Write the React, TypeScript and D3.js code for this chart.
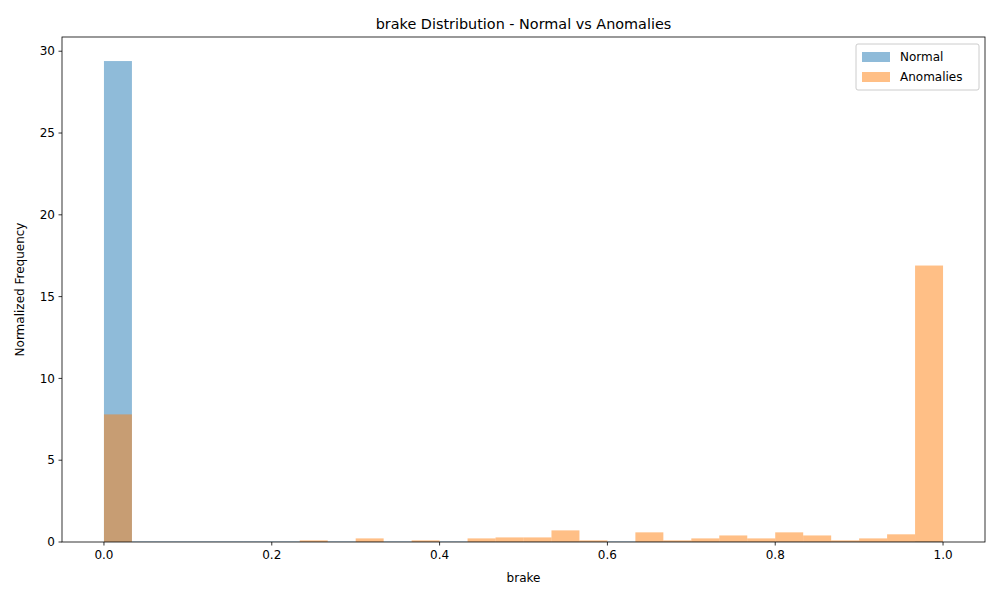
import React from 'react';
import * as d3 from 'd3';

const binCount = 30;
const normalValues = [29.4, 0.03, 0.03, 0.03, 0.03, 0.03, 0.03, 0.03, 0.03, 0.03, 0.03, 0.03, 0.03, 0.03, 0.03,
  0.03, 0.03, 0.03, 0.03, 0.03, 0.03, 0.03, 0.03, 0.03, 0.03, 0.03, 0.03, 0.03, 0.03, 0.05];
const anomalyValues = [7.8, 0, 0, 0, 0, 0, 0, 0.1, 0, 0.22, 0, 0.1, 0, 0.22, 0.28,
  0.28, 0.71, 0.1, 0, 0.59, 0.1, 0.22, 0.4, 0.22, 0.59, 0.4, 0.1, 0.22, 0.47, 16.9];
const xTicks = [0, 0.2, 0.4, 0.6, 0.8, 1.0];
const yTicks = [0, 5, 10, 15, 20, 25, 30];
const series = [
  { name: 'Normal', values: normalValues, color: '#1f77b4' },
  { name: 'Anomalies', values: anomalyValues, color: '#ff7f0e' },
];

const W = 1000, H = 600;
const m = { left: 62, right: 15, top: 37, bottom: 58 };

export default function App() {
  const x = d3.scaleLinear().domain([-0.05, 1.05]).range([m.left, W - m.right]);
  const y = d3.scaleLinear().domain([0, 29.4 * 1.05]).range([H - m.bottom, m.top]);
  const bw = 1 / binCount;
  const font = 'DejaVu Sans, sans-serif';
  return (
    <svg width={W} height={H} style={{ position: 'absolute', left: 0, top: 0 }} fontFamily={font}>
      <rect width={W} height={H} fill="#fff" />
      {series.map(s => (
        <g key={s.name}>
          {s.values.map((v, i) => (
            <rect key={i} x={x(i * bw)} width={x((i + 1) * bw) - x(i * bw)} y={y(v)} height={y(0) - y(v)}
              fill={s.color} fillOpacity={0.5} />
          ))}
        </g>
      ))}
      <rect x={m.left} y={m.top} width={W - m.left - m.right} height={H - m.top - m.bottom}
        fill="none" stroke="#000" strokeWidth={0.8} />
      {xTicks.map(t => (
        <g key={t} transform={`translate(${x(t)},${H - m.bottom})`}>
          <line y2={3.5} stroke="#000" strokeWidth={0.8} />
          <text y={17} textAnchor="middle" fontSize={12}>{t.toFixed(1)}</text>
        </g>
      ))}
      {yTicks.map(t => (
        <g key={t} transform={`translate(${m.left},${y(t)})`}>
          <line x2={-3.5} stroke="#000" strokeWidth={0.8} />
          <text x={-7} dy="0.35em" textAnchor="end" fontSize={12}>{t}</text>
        </g>
      ))}
      <text x={(m.left + W - m.right) / 2} y={582} textAnchor="middle" fontSize={12}>brake</text>
      <text transform={`translate(24,${(m.top + H - m.bottom) / 2}) rotate(-90)`} textAnchor="middle" fontSize={12}>Normalized Frequency</text>
      <text x={(m.left + W - m.right) / 2} y={29} textAnchor="middle" fontSize={14.4}>brake Distribution - Normal vs Anomalies</text>
      <g transform="translate(856,44)">
        <rect width={123} height={46} rx={2} fill="#fff" fillOpacity={0.8} stroke="#ccc" />
        {series.map((s, i) => (
          <g key={s.name} transform={`translate(6,${8 + i * 20})`}>
            <rect width={28} height={10} fill={s.color} fillOpacity={0.5} />
            <text x={38} y={9} fontSize={12}>{s.name}</text>
          </g>
        ))}
      </g>
    </svg>
  );
}
